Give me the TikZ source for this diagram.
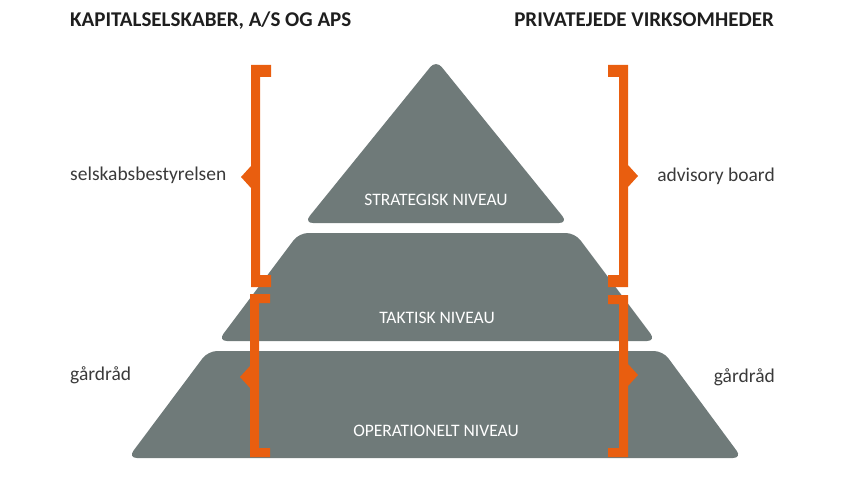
\documentclass[tikz,border=0pt]{standalone}
\usepackage{fontspec}
\setmainfont{Carlito}
\definecolor{levelgray}{HTML}{6F7A79}
\definecolor{bracketorange}{HTML}{E95E0F}
\definecolor{labelgray}{HTML}{3A3A3A}
\definecolor{headblack}{HTML}{1E1E1E}
\begin{document}
\begin{tikzpicture}
[x=1pt,y=-1pt,
  leveldecorate/.style={fill=levelgray,rounded corners=9pt},%
  bracketdecorate/.style={fill=bracketorange},%
  headdecorate/.style={font=\fontsize{21}{24}\selectfont\bfseries,text=headblack,inner sep=0pt},%
  sidedecorate/.style={font=\fontsize{19.5}{23}\selectfont,text=labelgray,inner sep=0pt},%
  leveltext/.style={font=\fontsize{17.5}{20}\selectfont,text=white,inner sep=0pt,anchor=base}]
\useasboundingbox (0,0) rectangle (850,478);
%% levels of the pyramid
\fill[leveldecorate] (436,60) -- (568,223) -- (304,223) -- cycle;
\fill[leveldecorate] (299,233) -- (575,233) -- (656,341) -- (218,341) -- cycle;
\fill[leveldecorate] (208,351) -- (663,351) -- (742,458) -- (128,458) -- cycle;
\foreach \nodename/\x/\y/\text in {strategisk/436/206/STRATEGISK NIVEAU,
  taktisk/437/323/TAKTISK NIVEAU, operationel/436/436/OPERATIONELT NIVEAU} {
  \node (\nodename) at (\x,\y) [leveltext] {\text};
}
%% brackets
\foreach \x/\s/\ytop/\ybot/\ymid/\w in {251/1/65/287/177/12, 250/1/294/457/377/9,
  628/-1/65/287/176/12, 628/-1/295/457/375/9} {
  \fill[bracketdecorate] (\x,\ytop) -- ++(20*\s,0) -- ++(0,\w) -- ++(-11*\s,0)
    -- (\x+9*\s,\ybot-\w) -- ++(11*\s,0) -- ++(0,\w) -- (\x,\ybot)
    -- (\x,\ymid+11) -- (\x-10*\s,\ymid) -- (\x,\ymid-11) -- cycle;
}
%% headings and side labels
\node (kapital) at (70,27) [headdecorate,anchor=base west] {KAPITALSELSKABER, A/S OG APS};
\node (privat) at (774,27) [headdecorate,anchor=base east] {PRIVATEJEDE VIRKSOMHEDER};
\foreach \nodename/\y/\text in {bestyrelse/181/selskabsbestyrelsen, gaardleft/380/gårdråd} {
  \node (\nodename) at (70,\y) [sidedecorate,anchor=base west] {\text};
}
\foreach \nodename/\y/\text in {advisory/182/advisory board, gaardright/382/gårdråd} {
  \node (\nodename) at (775,\y) [sidedecorate,anchor=base east] {\text};
}
\end{tikzpicture}
\end{document}
